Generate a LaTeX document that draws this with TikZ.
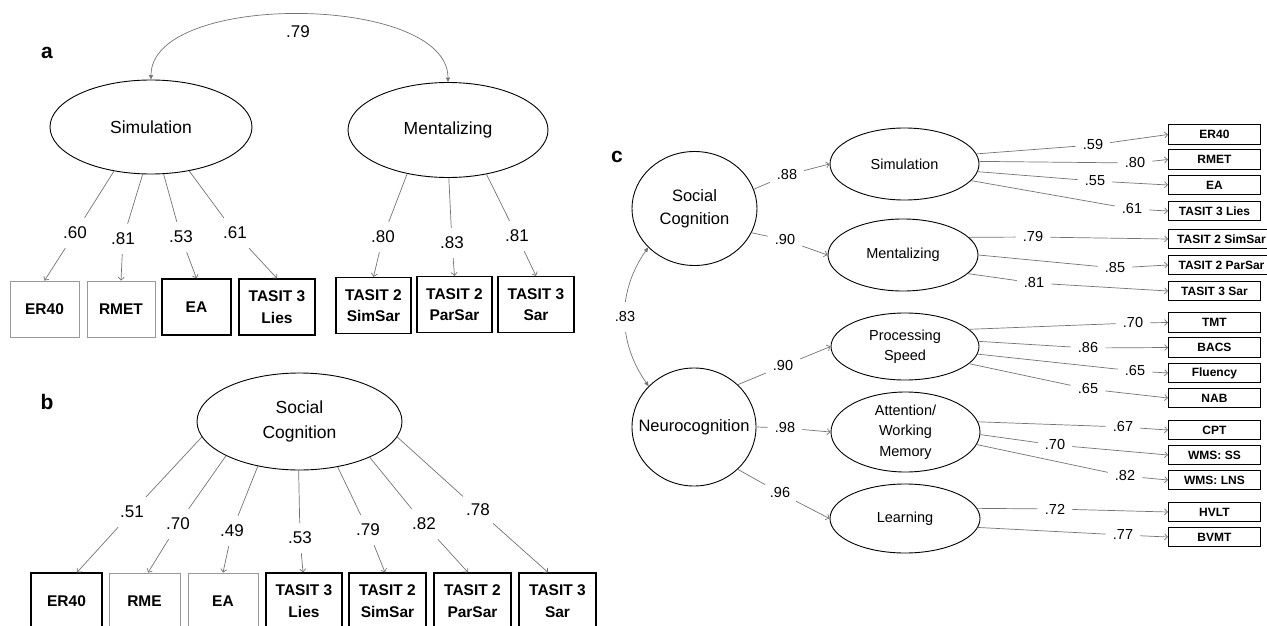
\documentclass[tikz,border=0pt]{standalone}
\usepackage{fontspec}
\setmainfont{Liberation Sans}
\usetikzlibrary{arrows.meta,shapes.geometric}

\definecolor{lineGray}{gray}{0.45}
\definecolor{boxGray}{gray}{0.6}

\tikzstyle{latent}=[ellipse, draw=black, line width=0.9pt, inner sep=0pt, align=center]
\tikzstyle{big}=[font=\fontsize{17.5}{25}\selectfont]
\tikzstyle{mid}=[font=\fontsize{14.5}{20.5}\selectfont]
\tikzstyle{circ}=[font=\fontsize{16.5}{23}\selectfont]
\tikzstyle{obs}=[rectangle, draw=black, line width=1.2pt, inner sep=0pt, align=center, font=\fontsize{15.5}{21.5}\selectfont\bfseries]
\tikzstyle{pale}=[draw=boxGray, line width=0.8pt]
\tikzstyle{obsc}=[rectangle, draw=black, line width=0.9pt, inner sep=0pt, anchor=west, minimum height=19.5pt, font=\fontsize{12}{14}\selectfont\bfseries]
\tikzstyle{lbl}=[inner xsep=3pt, inner ysep=9pt, text=black, font=\fontsize{17}{20}\selectfont]
\tikzstyle{lblc}=[inner xsep=7pt, inner ysep=3pt, text=black, font=\fontsize{14.5}{17}\selectfont]
\tikzstyle{load}=[lineGray, line width=0.7pt, >={Straight Barb[length=3pt,width=6pt]}]
\tikzstyle{cov}=[lineGray, line width=0.7pt, <->, >={Triangle[length=4.5pt,width=4pt]}]
\tikzstyle{panel}=[font=\fontsize{21}{24}\selectfont\bfseries]

\begin{document}
\begin{tikzpicture}[x=1pt, y=1pt]
	\useasboundingbox (0,0) rectangle (1267,-626);
	\clip (0,0) rectangle (1267,-626);

	% Teil a
	\node(pa) at (47,-53) [panel] {a};
	\node(sim) at (151,-127) [latent, big, minimum width=202pt, minimum height=94pt] {Simulation};
	\node(ment) at (448,-130) [latent, big, minimum width=200pt, minimum height=95pt] {Mentalizing};
	\draw[cov] (sim.north) to[out=90, in=90, looseness=0.76] (ment.north);
	\node(l79) at (298,-32) [lbl] {.79};

	\node(er40a) at (44.5,-309) [obs, pale, minimum width=69pt, minimum height=56pt] {ER40};
	\node(rmeta) at (121,-309) [obs, pale, minimum width=68pt, minimum height=56pt] {RMET};
	\node(eaa) at (196.5,-307) [obs, minimum width=69pt, minimum height=56pt] {EA};
	\node(liesa) at (277,-307) [obs, minimum width=76pt, minimum height=56pt] {TASIT 3\\Lies};
	\node(simsara) at (373.5,-305.5) [obs, minimum width=75pt, minimum height=56pt] {TASIT 2\\SimSar};
	\node(parsara) at (454.5,-304.5) [obs, minimum width=75pt, minimum height=56pt] {TASIT 2\\ParSar};
	\node(sara) at (536,-304.5) [obs, minimum width=76pt, minimum height=56pt] {TASIT 3\\Sar};

	\foreach \ang/\lx/\ly/\lab/\dst [count=\i] in {230/75/233/.60/er40a, 260/123/239/.81/rmeta, 285/181/237/.53/eaa, 311/235/233/.61/liesa}
		{
			\node(la\i) at (\lx,-\ly) [lbl] {\lab};
			\draw[load] (sim.\ang) -- (la\i);
			\draw[load, ->] (la\i) -- (\dst.north);
		}
	\foreach \ang/\lx/\ly/\lab/\dst [count=\i] in {227/383/237/.80/simsara, 271/452/243/.83/parsara, 311/517/236/.81/sara}
		{
			\node(lm\i) at (\lx,-\ly) [lbl] {\lab};
			\draw[load] (ment.\ang) -- (lm\i);
			\draw[load, ->] (lm\i) -- (\dst.north);
		}

	% Teil b
	\node(pb) at (47,-402) [panel] {b};
	\node(sc) at (299.5,-421.5) [latent, big, minimum width=205pt, minimum height=97pt] {Social\\Cognition};

	\node(er40b) at (66.5,-601) [obs, minimum width=71pt, minimum height=56pt] {ER40};
	\node(rmeb) at (144.5,-601) [obs, pale, minimum width=71pt, minimum height=56pt] {RME};
	\node(eab) at (223,-601) [obs, pale, minimum width=70pt, minimum height=56pt] {EA};
	\node(liesb) at (304,-601) [obs, minimum width=76pt, minimum height=56pt] {TASIT 3\\Lies};
	\node(simsarb) at (387.5,-601) [obs, minimum width=77pt, minimum height=56pt] {TASIT 2\\SimSar};
	\node(parsarb) at (472.5,-601) [obs, minimum width=77pt, minimum height=56pt] {TASIT 2\\ParSar};
	\node(sarb) at (557.5,-601) [obs, minimum width=77pt, minimum height=56pt] {TASIT 3\\Sar};

	\foreach \ang/\lx/\ly/\lab/\dst/\dx [count=\i] in {189/132/512/.51/er40b/10.5, 205/178/524/.70/rmeb/3.5, 227/232/531/.49/eab/0, 269/300/538/.53/liesb/-1, 310/368/530/.79/simsarb/-2.5, 333/424/524/.82/parsarb/-4.5, 351/478/510/.78/sarb/-9.5}
		{
			\node(lb\i) at (\lx,-\ly) [lbl] {\lab};
			\draw[load] (sc.\ang) -- (lb\i);
			\draw[load, ->] (lb\i) -- ([xshift=\dx pt]\dst.north);
		}

	% Teil c
	\node(pc) at (617,-157) [panel] {c};
	\node(socc) at (694.5,-208.5) [latent, circ, minimum width=125pt, minimum height=114pt] {Social\\Cognition};
	\node(neuro) at (694,-427) [latent, circ, minimum width=124pt, minimum height=118pt] {\makebox[0pt]{Neurocognition}};
	\draw[cov] (socc.220) to[out=235, in=125] node[lblc, fill=white, inner ysep=10pt] {.83} (neuro.138);

	\node(simc) at (904.5,-164) [latent, mid, minimum width=149pt, minimum height=72pt] {Simulation};
	\node(mentc) at (903,-255) [latent, mid, minimum width=150pt, minimum height=72pt] {Mentalizing};
	\node(procc) at (905,-346.5) [latent, mid, minimum width=148pt, minimum height=67pt] {Processing\\Speed};
	\node(attc) at (905.5,-432) [latent, mid, minimum width=149pt, minimum height=80pt] {Attention/\\Working\\Memory};
	\node(learnc) at (905,-518.5) [latent, mid, minimum width=150pt, minimum height=69pt] {Learning};

	\foreach \from/\ang/\lx/\ly/\lab/\dst [count=\i] in {socc/18/787/175/.88/simc, socc/337/785/240/.90/mentc, neuro/44/783/366/.90/procc, neuro/0/785/428/.98/attc, neuro/316/780/493/.96/learnc}
		{
			\node(ls\i) at (\lx,-\ly) [lblc] {\lab};
			\draw[load] (\from.\ang) -- (ls\i);
			\draw[load, ->] (ls\i) -- (\dst.west);
		}

	% Indikatoren c
	\foreach \name/\y/\w/\txt in {er40c/134.5/92/ER40, rmetc/159.5/92/RMET, eac/185/92/EA, liesc/211/92/TASIT 3 Lies, simsarc/239/106/TASIT 2 SimSar, parsarc/265/106/TASIT 2 ParSar, sarc/291/92/TASIT 3 Sar, tmt/322.5/92/TMT, bacs/347.5/92/BACS, fluency/373/92/Fluency, nab/398/92/NAB, cpt/430/92/CPT, wmsss/455/92/WMS: SS, wmslns/480/92/WMS: LNS, hvlt/512/92/HVLT, bvmt/537/92/BVMT}
		{
			\node(\name) at (1168,-\y) [obsc, minimum width=\w pt] {\txt};
		}

	\foreach \from/\ang/\lx/\ly/\lab/\dst [count=\i] in {simc/8/1093/145/.59/er40c, simc/2/1135/163/.80/rmetc, simc/354/1095/181/.55/eac, simc/346/1132/209/.61/liesc, mentc/15/1033/237/.79/simsarc, mentc/0/1115/268/.85/parsarc, mentc/344/1034/283/.81/sarc, procc/15/1133/323/.70/tmt, procc/4/1088/348/.86/bacs, procc/354/1135/371/.65/fluency, procc/345/1088/389/.65/nab, attc/8/1123/427/.67/cpt, attc/358/1055/445/.70/wmsss, attc/350/1125/476/.82/wmslns, learnc/8/1055/509/.72/hvlt, learnc/353/1123/535/.77/bvmt}
		{
			\node(lc\i) at (\lx,-\ly) [lblc] {\lab};
			\draw[load] (\from.\ang) -- (lc\i);
			\draw[load, ->] (lc\i) -- (\dst.west);
		}

\end{tikzpicture}
\end{document}
